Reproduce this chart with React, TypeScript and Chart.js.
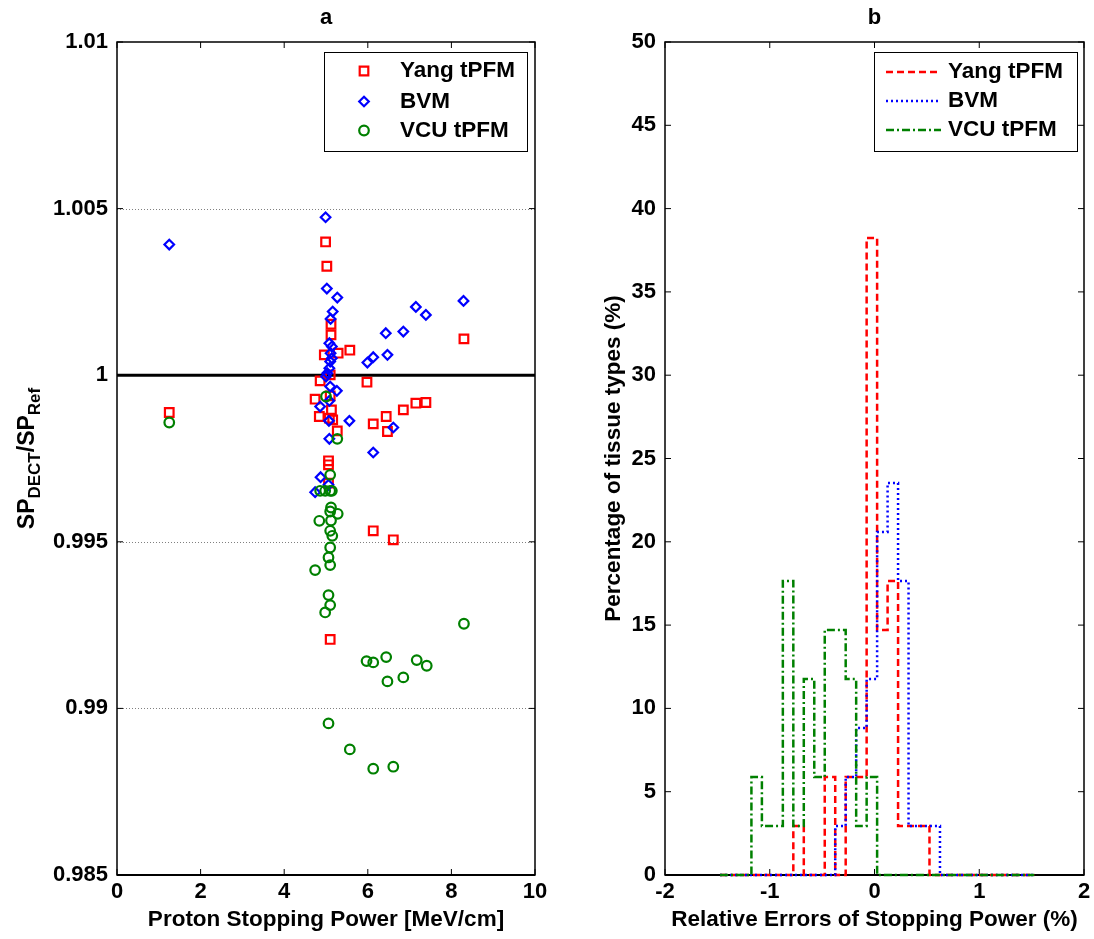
import React, { useEffect, useRef } from 'react';
import { Chart, registerables } from 'chart.js';

Chart.register(...registerables);

const FONT = "'Liberation Sans', Arial, sans-serif";

// ---------- Panel a: scatter data ----------
const YANG_X = [1.25, 4.99, 5.02, 5.12, 5.12, 5.57, 5.29, 4.96, 8.30, 5.98, 4.86, 4.74, 5.10, 4.84, 5.08, 5.16, 5.27, 6.13, 6.44, 6.47, 6.85, 7.15, 7.39, 5.06, 5.06, 5.06, 6.13, 6.61, 5.10, 5.10, 5.13];
const YANG_Y = [0.99888, 1.00400, 1.00327, 1.00153, 1.00121, 1.00075, 1.00066, 1.00061, 1.00109, 0.99979, 0.99983, 0.99928, 0.99938, 0.99876, 0.99871, 0.99866, 0.99833, 0.99854, 0.99876, 0.99831, 0.99896, 0.99916, 0.99918, 0.99743, 0.99731, 0.99676, 0.99533, 0.99506, 0.99207, 1.00001, 0.99896];

const BVM_X = [1.25, 4.99, 5.02, 5.27, 5.16, 5.11, 7.15, 7.39, 8.29, 6.43, 6.85, 6.47, 5.99, 6.13, 5.08, 5.14, 5.11, 5.14, 5.10, 5.08, 5.03, 5.00, 5.26, 5.10, 4.86, 5.08, 5.56, 5.07, 6.61, 5.08, 6.13, 4.87, 4.74, 5.06];
const BVM_Y = [1.00392, 1.00474, 1.00260, 1.00233, 1.00191, 1.00169, 1.00205, 1.00181, 1.00223, 1.00126, 1.00131, 1.00061, 1.00038, 1.00054, 1.00096, 1.00086, 1.00066, 1.00051, 1.00041, 1.00021, 1.00006, 0.99996, 0.99953, 0.99966, 0.99906, 0.99923, 0.99863, 0.99863, 0.99843, 0.99809, 0.99768, 0.99694, 0.99649, 0.99671];

const VCU_X = [1.25, 5.00, 5.27, 5.10, 4.86, 4.98, 5.10, 5.14, 5.12, 5.10, 5.28, 4.84, 5.12, 5.10, 5.15, 5.10, 5.06, 5.10, 4.74, 5.06, 5.10, 4.98, 8.30, 5.97, 6.13, 6.44, 7.17, 7.41, 6.47, 6.85, 5.06, 5.57, 6.13, 6.61];
const VCU_Y = [0.99858, 0.99936, 0.99809, 0.99701, 0.99653, 0.99653, 0.99653, 0.99653, 0.99603, 0.99591, 0.99584, 0.99563, 0.99564, 0.99533, 0.99518, 0.99483, 0.99453, 0.99430, 0.99415, 0.99340, 0.99310, 0.99288, 0.99254, 0.99142, 0.99138, 0.99154, 0.99145, 0.99128, 0.99081, 0.99093, 0.98955, 0.98877, 0.98819, 0.98825];

const REF_LINE_X = [0, 10];
const REF_LINE_Y = 1;

const A_X_TICKS = [0, 2, 4, 6, 8, 10];
const A_X_TICK_LABELS = ['0', '2', '4', '6', '8', '10'];
const A_Y_TICKS = [0.985, 0.99, 0.995, 1, 1.005, 1.01];
const A_Y_TICK_LABELS = ['0.985', '0.99', '0.995', '1', '1.005', '1.01'];

// ---------- Panel b: histogram data (percent of tissue types per bin) ----------
const BIN_EDGES = [-1.475, -1.375, -1.275, -1.175, -1.075, -0.975, -0.875, -0.775, -0.675, -0.575, -0.475, -0.375, -0.275, -0.175, -0.075, 0.025, 0.125, 0.225, 0.325, 0.425, 0.525, 0.625, 0.725, 0.825, 0.925, 1.025, 1.125, 1.225, 1.325, 1.425, 1.525];
const YANG_PCT = [0, 0, 0, 0, 0, 0, 0, 2.94, 0, 0, 5.88, 0, 5.88, 5.88, 38.24, 14.71, 17.65, 2.94, 2.94, 2.94, 0, 0, 0, 0, 0, 0, 0, 0, 0, 0];
const BVM_PCT = [0, 0, 0, 0, 0, 0, 0, 0, 0, 0, 0, 2.94, 5.88, 8.82, 11.76, 20.59, 23.53, 17.65, 2.94, 2.94, 2.94, 0, 0, 0, 0, 0, 0, 0, 0, 0];
const VCU_PCT = [0, 0, 0, 5.88, 2.94, 2.94, 17.65, 2.94, 11.76, 5.88, 14.71, 14.71, 11.76, 2.94, 5.88, 0, 0, 0, 0, 0, 0, 0, 0, 0, 0, 0, 0, 0, 0, 0];

const B_X_TICKS = [-2, -1, 0, 1, 2];
const B_X_TICK_LABELS = ['-2', '-1', '0', '1', '2'];
const B_Y_TICKS = [0, 5, 10, 15, 20, 25, 30, 35, 40, 45, 50];
const B_Y_TICK_LABELS = ['0', '5', '10', '15', '20', '25', '30', '35', '40', '45', '50'];

const SERIES_NAMES = ['Yang tPFM', 'BVM', 'VCU tPFM'];
const RED = '#ff0000';
const BLUE = '#0000ff';
const GREEN = '#008000';

const TICK_FONT = { family: FONT, size: 22, weight: 'bold' as any };
const LABEL_PX = 22.5;

function stairs(edges: number[], vals: number[]) {
  const pts: any[] = [];
  for (let k = 0; k < vals.length; k++) {
    pts.push({ x: edges[k], y: vals[k] });
    pts.push({ x: edges[k + 1], y: vals[k] });
  }
  return pts;
}

function drawGrid(chart: any, yVals: number[]) {
  const { ctx, chartArea: a, scales } = chart;
  ctx.save();
  ctx.strokeStyle = '#808080';
  ctx.lineWidth = 1;
  ctx.setLineDash([1, 2]);
  ctx.beginPath();
  for (const v of yVals) {
    const p = Math.round(scales.y.getPixelForValue(v)) + 0.5;
    ctx.moveTo(a.left, p);
    ctx.lineTo(a.right, p);
  }
  ctx.stroke();
  ctx.restore();
}

function drawBox(chart: any, xT: number[], yT: number[]) {
  const { ctx, chartArea: a, scales } = chart;
  ctx.save();
  ctx.strokeStyle = '#000';
  ctx.setLineDash([]);
  ctx.lineWidth = 1;
  const L = 6;
  ctx.beginPath();
  for (const v of xT) {
    const p = scales.x.getPixelForValue(v);
    ctx.moveTo(p, a.bottom); ctx.lineTo(p, a.bottom - L);
    ctx.moveTo(p, a.top); ctx.lineTo(p, a.top + L);
  }
  for (const v of yT) {
    const p = scales.y.getPixelForValue(v);
    ctx.moveTo(a.left, p); ctx.lineTo(a.left + L, p);
    ctx.moveTo(a.right, p); ctx.lineTo(a.right - L, p);
  }
  ctx.stroke();
  ctx.lineWidth = 1.5;
  ctx.strokeRect(a.left, a.top, a.right - a.left, a.bottom - a.top);
  ctx.lineWidth = 2;
  ctx.beginPath();
  ctx.moveTo(a.left, a.bottom); ctx.lineTo(a.right, a.bottom);
  ctx.stroke();
  ctx.restore();
}

function drawMarker(ctx: any, kind: string, x: number, y: number, color: string) {
  ctx.save();
  ctx.strokeStyle = color;
  ctx.lineWidth = 2.2;
  ctx.setLineDash([]);
  ctx.beginPath();
  if (kind === 'rect') {
    ctx.rect(x - 4.3, y - 4.3, 8.6, 8.6);
  } else if (kind === 'rectRot') {
    const r = 4.8;
    ctx.moveTo(x, y - r); ctx.lineTo(x + r, y); ctx.lineTo(x, y + r); ctx.lineTo(x - r, y); ctx.closePath();
  } else {
    ctx.arc(x, y, 4.8, 0, Math.PI * 2);
  }
  ctx.stroke();
  ctx.restore();
}

function drawText(ctx: any, text: string, x: number, y: number, size: number, align = 'center', rotate = false) {
  ctx.save();
  ctx.font = `bold ${size}px ${FONT}`;
  ctx.fillStyle = '#000';
  ctx.textAlign = align;
  ctx.textBaseline = 'middle';
  ctx.translate(x, y);
  if (rotate) ctx.rotate(-Math.PI / 2);
  ctx.fillText(text, 0, 0);
  ctx.restore();
}

function drawSubscriptLabel(ctx: any, parts: { t: string; sub: boolean }[], baseX: number, cy: number) {
  const main = `bold 23px ${FONT}`;
  const sub = `bold 17px ${FONT}`;
  ctx.save();
  let total = 0;
  const widths = parts.map((p) => {
    ctx.font = p.sub ? sub : main;
    const w = ctx.measureText(p.t).width;
    total += w;
    return w;
  });
  ctx.translate(baseX, cy);
  ctx.rotate(-Math.PI / 2);
  ctx.fillStyle = '#000';
  ctx.textAlign = 'left';
  ctx.textBaseline = 'alphabetic';
  let x = -total / 2;
  parts.forEach((p, i) => {
    ctx.font = p.sub ? sub : main;
    ctx.fillText(p.t, x, p.sub ? 6 : 0);
    x += widths[i];
  });
  ctx.restore();
}

const panelAPlugin = {
  id: 'panelA',
  beforeDatasetsDraw(chart: any) {
    drawGrid(chart, [0.99, 0.995, 1.005]);
    drawBox(chart, A_X_TICKS, A_Y_TICKS);
  },
  afterDatasetsDraw(chart: any) {
    const { ctx, chartArea: a } = chart;
    const bx = 324, by = 52, bw = 203, bh = 99;
    ctx.save();
    ctx.fillStyle = '#fff';
    ctx.fillRect(bx, by, bw, bh);
    ctx.strokeStyle = '#000';
    ctx.lineWidth = 1;
    ctx.strokeRect(bx + 0.5, by + 0.5, bw, bh);
    ctx.restore();
    const rows = [71, 101.5, 130.5];
    const kinds = ['rect', 'rectRot', 'circle'];
    const cols = [RED, BLUE, GREEN];
    rows.forEach((y, i) => {
      drawMarker(ctx, kinds[i], 364, y, cols[i]);
      drawText(ctx, SERIES_NAMES[i], 400, y, LABEL_PX, 'left');
    });
    const cx = (a.left + a.right) / 2;
    drawText(ctx, 'a', cx, 18, 22);
    drawText(ctx, 'Proton Stopping Power [MeV/cm]', cx, 920, LABEL_PX);
    drawSubscriptLabel(ctx, [
      { t: 'SP', sub: false },
      { t: 'DECT', sub: true },
      { t: '/SP', sub: false },
      { t: 'Ref', sub: true },
    ], 34, (a.top + a.bottom) / 2);
  },
};

const panelBPlugin = {
  id: 'panelB',
  beforeDatasetsDraw(chart: any) {
    drawBox(chart, B_X_TICKS, B_Y_TICKS);
  },
  afterDatasetsDraw(chart: any) {
    const { ctx, chartArea: a } = chart;
    const off = 555;
    const bx = 874 - off, by = 52, bw = 203, bh = 99;
    ctx.save();
    ctx.fillStyle = '#fff';
    ctx.fillRect(bx, by, bw, bh);
    ctx.strokeStyle = '#000';
    ctx.lineWidth = 1;
    ctx.strokeRect(bx + 0.5, by + 0.5, bw, bh);
    ctx.restore();
    const rows = [72, 101, 130];
    const cols = [RED, BLUE, GREEN];
    const dashes = [[7, 4], [2, 3], [8, 3, 2, 3]];
    rows.forEach((y, i) => {
      ctx.save();
      ctx.strokeStyle = cols[i];
      ctx.lineWidth = 2.5;
      ctx.setLineDash(dashes[i]);
      ctx.beginPath();
      ctx.moveTo(886 - off, y);
      ctx.lineTo(941 - off, y);
      ctx.stroke();
      ctx.restore();
      drawText(ctx, SERIES_NAMES[i], 948 - off, y, LABEL_PX, 'left');
    });
    const cx = (a.left + a.right) / 2;
    drawText(ctx, 'b', cx, 18, 22);
    drawText(ctx, 'Relative Errors of Stopping Power (%)', cx, 920, LABEL_PX);
    drawText(ctx, 'Percentage of tissue types (%)', 614 - off, (a.top + a.bottom) / 2, LABEL_PX, 'center', true);
  },
};

function pts(xs: number[], ys: number[]) {
  return xs.map((x, i) => ({ x, y: ys[i] }));
}

export default function App() {
  const refA = useRef<HTMLCanvasElement>(null);
  const refB = useRef<HTMLCanvasElement>(null);

  useEffect(() => {
    const common = {
      responsive: false,
      animation: false,
      devicePixelRatio: 1,
      events: [],
      plugins: { legend: { display: false }, tooltip: { enabled: false }, title: { display: false } },
    };

    const chartA = new Chart(refA.current as any, {
      type: 'scatter',
      data: {
        datasets: [
          {
            label: 'ref', type: 'line', data: REF_LINE_X.map((x) => ({ x, y: REF_LINE_Y })),
            borderColor: '#000', borderWidth: 3, pointRadius: 0, showLine: true, order: 4,
          } as any,
          {
            label: SERIES_NAMES[0], data: pts(YANG_X, YANG_Y), pointStyle: 'rect', pointRadius: 6.1,
            borderColor: RED, backgroundColor: 'rgba(0,0,0,0)', borderWidth: 2.2, pointBorderWidth: 2.2, order: 3,
          },
          {
            label: SERIES_NAMES[1], data: pts(BVM_X, BVM_Y), pointStyle: 'rectRot', pointRadius: 4.8,
            borderColor: BLUE, backgroundColor: 'rgba(0,0,0,0)', borderWidth: 2.2, pointBorderWidth: 2.2, order: 2,
          },
          {
            label: SERIES_NAMES[2], data: pts(VCU_X, VCU_Y), pointStyle: 'circle', pointRadius: 4.8,
            borderColor: GREEN, backgroundColor: 'rgba(0,0,0,0)', borderWidth: 2.2, pointBorderWidth: 2.2, order: 1,
          },
        ],
      },
      options: {
        ...common,
        layout: { padding: { left: 0, top: 42, right: 20, bottom: 0 } },
        scales: {
          x: {
            type: 'linear', min: 0, max: 10,
            afterBuildTicks: (s: any) => { s.ticks = A_X_TICKS.map((v) => ({ value: v })); },
            afterFit: (s: any) => { s.height = 64; },
            grid: { display: false }, border: { display: false },
            ticks: { color: '#000', font: TICK_FONT, padding: -4, maxRotation: 0, autoSkip: false,
              callback: (_v: any, i: number) => A_X_TICK_LABELS[i] },
          },
          y: {
            type: 'linear', min: 0.985, max: 1.01,
            afterBuildTicks: (s: any) => { s.ticks = A_Y_TICKS.map((v) => ({ value: v })); },
            afterFit: (s: any) => { s.width = 117; },
            grid: { display: false }, border: { display: false },
            ticks: { color: '#000', font: TICK_FONT, padding: 1, autoSkip: false,
              callback: (_v: any, i: number) => A_Y_TICK_LABELS[i] },
          },
        },
      } as any,
      plugins: [panelAPlugin],
    });

    const lineDs = (label: string, vals: number[], color: string, dash: number[], order: number) => ({
      label, data: stairs(BIN_EDGES, vals), borderColor: color, borderWidth: 2.5, borderDash: dash,
      pointRadius: 0, fill: false, tension: 0, clip: 6, order, borderCapStyle: 'butt',
    });

    const chartB = new Chart(refB.current as any, {
      type: 'line',
      data: {
        datasets: [
          lineDs(SERIES_NAMES[0], YANG_PCT, RED, [7, 4], 3),
          lineDs(SERIES_NAMES[1], BVM_PCT, BLUE, [2, 3], 2),
          lineDs(SERIES_NAMES[2], VCU_PCT, GREEN, [8, 3, 2, 3], 1),
        ] as any,
      },
      options: {
        ...common,
        layout: { padding: { left: 0, top: 42, right: 10, bottom: 0 } },
        scales: {
          x: {
            type: 'linear', min: -2, max: 2,
            afterBuildTicks: (s: any) => { s.ticks = B_X_TICKS.map((v) => ({ value: v })); },
            afterFit: (s: any) => { s.height = 64; },
            grid: { display: false }, border: { display: false },
            ticks: { color: '#000', font: TICK_FONT, padding: -4, maxRotation: 0, autoSkip: false,
              callback: (_v: any, i: number) => B_X_TICK_LABELS[i] },
          },
          y: {
            type: 'linear', min: 0, max: 50,
            afterBuildTicks: (s: any) => { s.ticks = B_Y_TICKS.map((v) => ({ value: v })); },
            afterFit: (s: any) => { s.width = 110; },
            grid: { display: false }, border: { display: false },
            ticks: { color: '#000', font: TICK_FONT, padding: 1, autoSkip: false,
              callback: (_v: any, i: number) => B_Y_TICK_LABELS[i] },
          },
        },
      } as any,
      plugins: [panelBPlugin],
    });

    return () => {
      chartA.destroy();
      chartB.destroy();
    };
  }, []);

  return (
    <div style={{ position: 'absolute', left: 0, top: 0, width: 1094, height: 939, background: '#fff' }}>
      <canvas ref={refA} width={555} height={939} style={{ position: 'absolute', left: 0, top: 0 }} />
      <canvas ref={refB} width={539} height={939} style={{ position: 'absolute', left: 555, top: 0 }} />
    </div>
  );
}
